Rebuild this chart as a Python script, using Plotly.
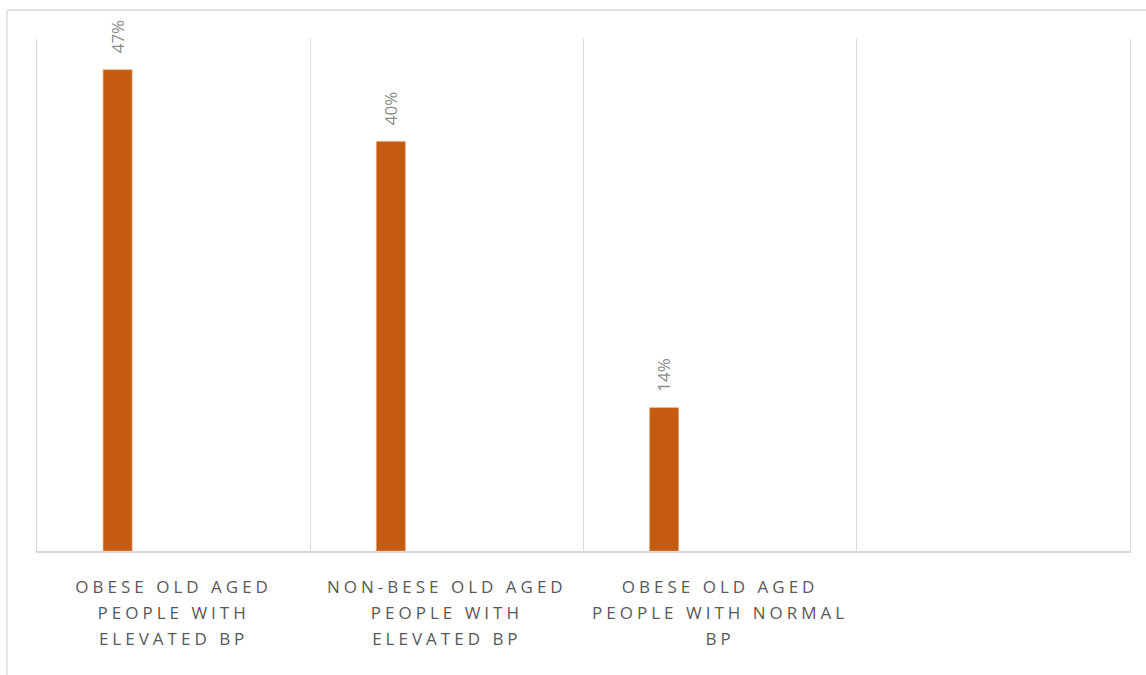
import plotly.graph_objects as go

# Share of each group (fraction of people)
categories = [
    "Obese old aged people with elevated BP",
    "Non-bese old aged people with elevated BP",
    "Obese old aged people with normal BP",
    "(blank)",
]
shares = [0.47, 0.40, 0.14, None]
tick_labels = [
    "Obese old aged<br>people with<br>elevated BP",
    "Non-bese old aged<br>people with<br>elevated BP",
    "Obese old aged<br>people with normal<br>BP",
    "",
]

BAR_COLOR = "#c55a11"
GRID = "#d9d9d9"
BAR_OFFSET = -0.258   # left edge of the bar relative to category centre
BAR_WIDTH = 0.106

fig = go.Figure()
fig.add_trace(go.Bar(
    x=categories,
    y=shares,
    marker=dict(color=BAR_COLOR, line=dict(color="#e8a070", width=0.6)),
    offset=BAR_OFFSET,
    width=BAR_WIDTH,
    hoverinfo="skip",
    showlegend=False,
))

# rotated value labels above each bar
for i, v in enumerate(shares):
    if v is None:
        continue
    fig.add_annotation(
        x=i + BAR_OFFSET + BAR_WIDTH / 2, y=v,
        xref="x", yref="y",
        text=f"{round(v * 100)}%",
        textangle=-90,
        showarrow=False,
        xanchor="center", yanchor="bottom",
        yshift=14,
        font=dict(family="Open Sans, sans-serif", size=17, color="#8c8c8c"),
    )

# outer chart frame (top and left edges)
fig.add_shape(type="line", xref="paper", yref="paper",
              x0=-0.0275, x1=1.2, y0=1.0566, y1=1.0566,
              line=dict(color=GRID, width=1.3))
fig.add_shape(type="line", xref="paper", yref="paper",
              x0=-0.0275, x1=-0.0275, y0=-0.5, y1=1.0566,
              line=dict(color=GRID, width=1.3))

fig.update_layout(
    width=1146, height=675,
    margin=dict(l=37, r=16, t=39, b=124),
    paper_bgcolor="white",
    plot_bgcolor="white",
    xaxis=dict(
        type="category",
        categoryorder="array",
        categoryarray=categories,
        tickvals=categories,
        ticktext=tick_labels,
        tickson="boundaries",
        ticks="",
        ticklabelstandoff=20,
        showgrid=True,
        gridcolor=GRID,
        gridwidth=1.3,
        showline=True,
        linecolor=GRID,
        linewidth=1.6,
        range=[-0.5, 3.5],
        tickfont=dict(family="Open Sans, sans-serif", size=17,
                      color="#595959", textcase="upper"),
    ),
    yaxis=dict(
        range=[0, 0.5],
        showgrid=False,
        zeroline=False,
        showticklabels=False,
        ticks="",
        showline=True,
        mirror=True,
        linecolor=GRID,
        linewidth=1.3,
    ),
)

# letter spacing and line height for the category labels
spacing_js = """
var gd = document.getElementById('{plot_id}');
function spaceTicks() {
  gd.querySelectorAll('.xtick text').forEach(function (t) {
    t.style.letterSpacing = '4px';
    t.querySelectorAll('tspan.line').forEach(function (s, k) {
      s.setAttribute('dy', (k * 1.53) + 'em');
    });
  });
}
spaceTicks();
gd.on('plotly_afterplot', spaceTicks);
"""

fig.write_html("out.html", post_script=spacing_js)
